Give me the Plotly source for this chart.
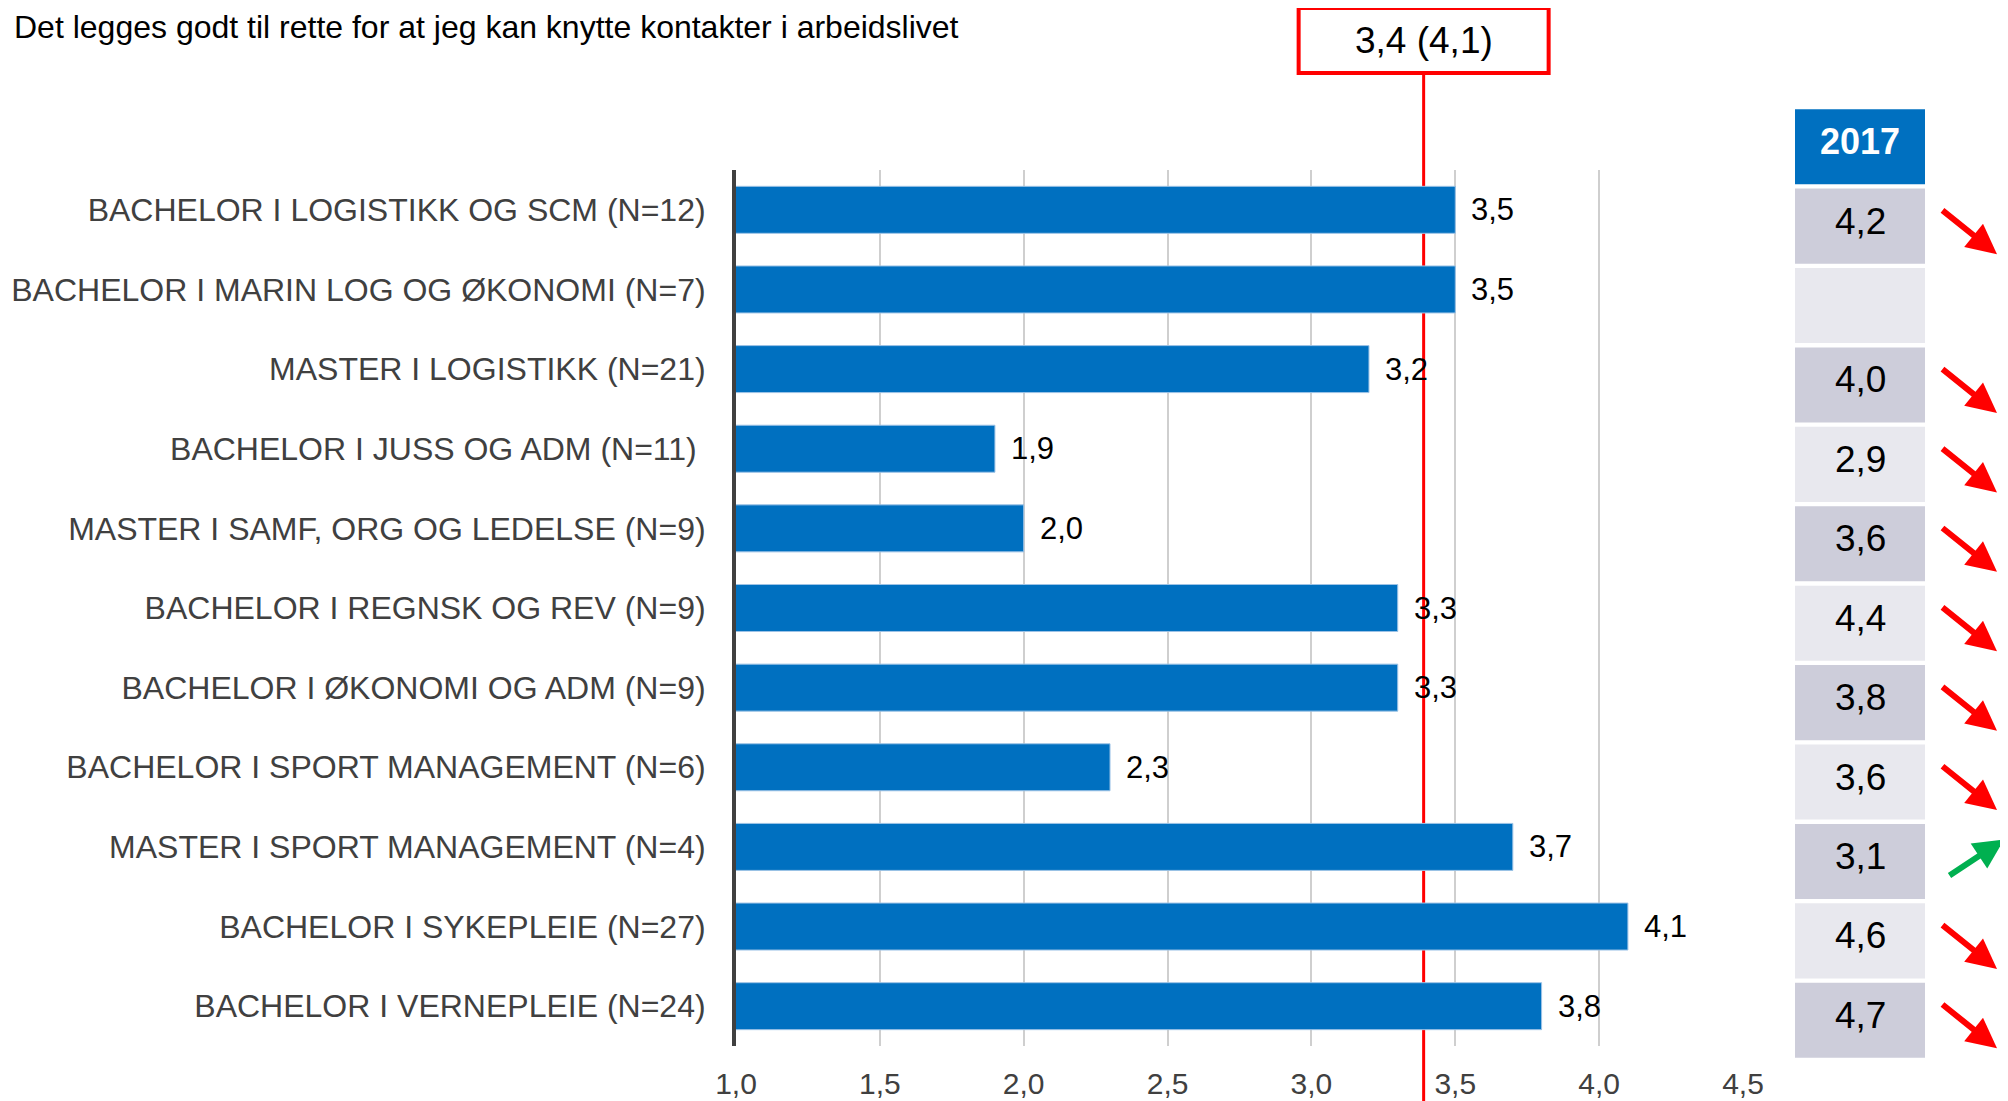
import plotly.graph_objects as go

# ---------------- data ----------------
programs = [
    "BACHELOR I LOGISTIKK OG SCM (N=12)",
    "BACHELOR I MARIN LOG OG ØKONOMI (N=7)",
    "MASTER I LOGISTIKK (N=21)",
    "BACHELOR I JUSS OG ADM (N=11)\u00a0",
    "MASTER I SAMF, ORG OG LEDELSE (N=9)",
    "BACHELOR I REGNSK OG REV (N=9)",
    "BACHELOR I ØKONOMI OG ADM (N=9)",
    "BACHELOR I SPORT MANAGEMENT (N=6)",
    "MASTER I SPORT MANAGEMENT (N=4)",
    "BACHELOR I SYKEPLEIE (N=27)",
    "BACHELOR I VERNEPLEIE (N=24)",
]
values_2018 = [3.5, 3.5, 3.2, 1.9, 2.0, 3.3, 3.3, 2.3, 3.7, 4.1, 3.8]
values_2017 = [4.2, None, 4.0, 2.9, 3.6, 4.4, 3.8, 3.6, 3.1, 4.6, 4.7]
mean_2018 = 3.39
mean_2017 = 4.1
header_label = "2017"
question = "Det legges godt til rette for at jeg kan knytte kontakter i arbeidslivet"
x_ticks = [1.0, 1.5, 2.0, 2.5, 3.0, 3.5, 4.0, 4.5]

# ---------------- style ----------------
OFF = 8                      # default page (body) margin of the html page
W, H = 2008 - OFF, 1101 - OFF
BLUE = "#0070C0"
RED = "#FF0000"
GREEN = "#00B050"
DARK_CELL = "#CDCDDA"
LIGHT_CELL = "#E8E8EE"
FONT = "Arial, Liberation Sans, sans-serif"


def fmt(v):
    return f"{v:.1f}".replace(".", ",")


def px_x(p):
    return (p - OFF) / W


def px_y(p):
    return 1 - (p - OFF) / H


fig = go.Figure()

# main bars
fig.add_trace(go.Bar(
    x=values_2018, y=programs, orientation="h",
    marker=dict(color=BLUE, line=dict(color="#9DC3E6", width=1)),
    width=0.59, xaxis="x", yaxis="y", hoverinfo="x+y",
))

# 2017 table column as a bar trace
table_cats = [header_label] + programs
cell_colors = [BLUE] + [DARK_CELL if i % 2 == 0 else LIGHT_CELL for i in range(len(programs))]
fig.add_trace(go.Bar(
    x=[1] * len(table_cats), y=table_cats, orientation="h",
    marker=dict(color=cell_colors, line=dict(width=0)),
    width=0.945, xaxis="x2", yaxis="y2", hoverinfo="skip",
))

annotations = []
# table texts (positions given as category indices on the table axis)
annotations.append(dict(
    x=0.5, y=table_cats.index(header_label), xref="x2", yref="y2", yshift=5,
    text=f"<b>{header_label}</b>",
    showarrow=False, font=dict(size=36, color="white", family=FONT),
))
for i, old in enumerate(values_2017):
    if old is None:
        continue
    annotations.append(dict(
        x=0.5, y=i + 1, xref="x2", yref="y2", yshift=5, text=fmt(old), showarrow=False,
        font=dict(size=37, color="black", family=FONT),
    ))

# value labels
for p, v in zip(programs, values_2018):
    annotations.append(dict(
        x=v, y=p, xref="x", yref="y", text=fmt(v), showarrow=False,
        xanchor="left", xshift=14, font=dict(size=31, color="black", family=FONT),
    ))

# trend arrows
for i, (cur, old) in enumerate(zip(values_2018, values_2017)):
    if old is None:
        continue
    if cur < old:
        annotations.append(dict(
            x=px_x(1997), y=i + 1, xref="paper", yref="y2", yshift=-28,
            ax=-56, ay=-45, axref="pixel", ayref="pixel", text="",
            showarrow=True, arrowhead=2, arrowsize=1, arrowwidth=6, arrowcolor=RED,
        ))
    else:
        annotations.append(dict(
            x=px_x(2004), y=i + 1, xref="paper", yref="y2", yshift=22,
            ax=-56, ay=37, axref="pixel", ayref="pixel", text="",
            showarrow=True, arrowhead=2, arrowsize=1, arrowwidth=6, arrowcolor=GREEN,
        ))

# mean label
annotations.append(dict(
    x=mean_2018, y=px_y(40.5), xref="x", yref="paper",
    text=f"{fmt(mean_2018)} ({fmt(mean_2017)})", showarrow=False,
    xanchor="center", yanchor="middle", font=dict(size=37, color="black", family=FONT),
))
# question text
annotations.append(dict(
    x=px_x(12), y=px_y(27), xref="paper", yref="paper", text=question,
    showarrow=False, xanchor="left", yanchor="middle",
    font=dict(size=32, color="black", family=FONT),
))

shapes = [
    # mean line
    dict(type="line", xref="x", yref="paper", x0=mean_2018, x1=mean_2018,
         y0=0, y1=px_y(73), line=dict(color=RED, width=3), layer="below"),
    # mean box
    dict(type="rect", xref="x", yref="paper", xsizemode="pixel", xanchor=mean_2018,
         x0=-125, x1=125, y0=px_y(73), y1=px_y(8),
         line=dict(color=RED, width=4), fillcolor="white", layer="above"),
]

fig.update_layout(
    width=W, height=H,
    margin=dict(l=0, r=0, t=0, b=0, autoexpand=False),
    paper_bgcolor="white", plot_bgcolor="white",
    showlegend=False, separators=", ",
    font=dict(family=FONT, size=30, color="#404040"),
    bargap=0.41,
    xaxis=dict(
        domain=[px_x(736), px_x(1743)], range=[1, 4.5],
        tickvals=x_ticks, ticktext=[fmt(t) for t in x_ticks],
        showgrid=True, gridcolor="#CFCFCF", gridwidth=1.5,
        zeroline=False, showline=False, automargin=False,
        ticks="", ticklabelstandoff=17,
        tickfont=dict(size=30, color="#404040", family=FONT),
        fixedrange=True,
    ),
    yaxis=dict(
        type="category", categoryorder="array", categoryarray=programs,
        domain=[px_y(1046), px_y(170)], range=[len(programs) - 0.5, -0.5],
        showline=True, linecolor="#404040", linewidth=4,
        showgrid=False, zeroline=False, ticks="", automargin=False,
        ticklabelstandoff=20,
        tickfont=dict(size=32, color="#404040", family=FONT),
        fixedrange=True,
    ),
    xaxis2=dict(
        domain=[px_x(1795), px_x(1925)], range=[0, 1], anchor="y2",
        visible=False, fixedrange=True,
    ),
    yaxis2=dict(
        type="category", categoryorder="array", categoryarray=table_cats,
        domain=[px_y(1060), px_y(107)], range=[len(table_cats) - 0.5, -0.5],
        anchor="x2", visible=False, fixedrange=True,
    ),
    annotations=annotations,
    shapes=shapes,
)

fig.write_html("out.html")
